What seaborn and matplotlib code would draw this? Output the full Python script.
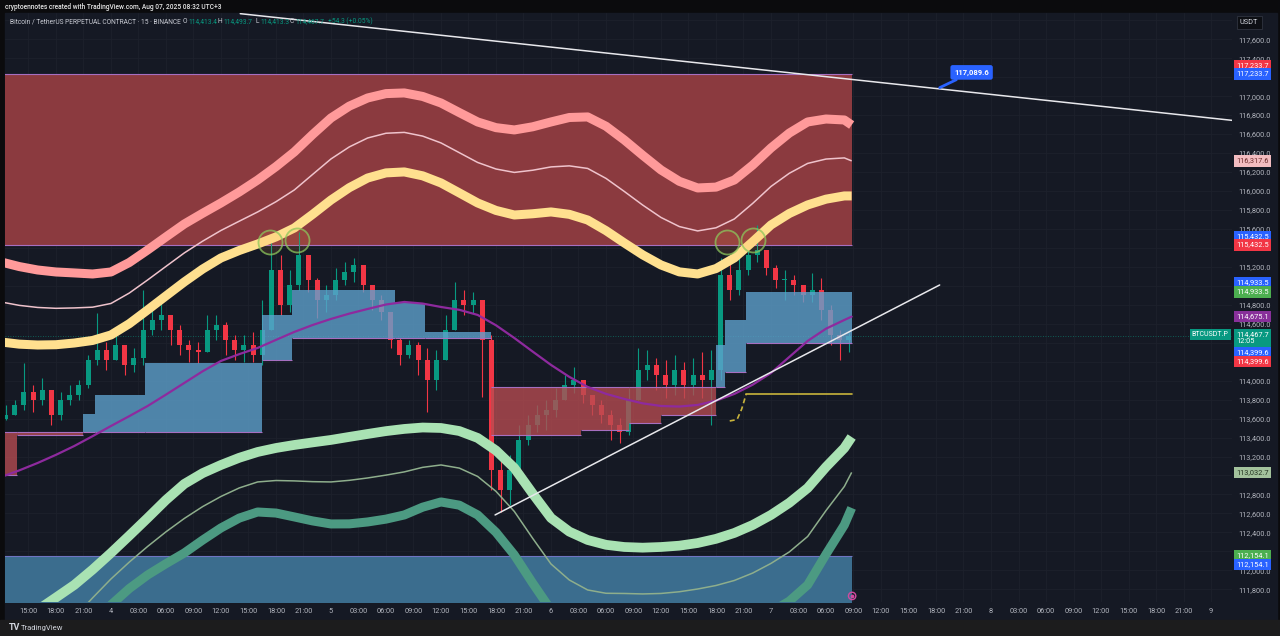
import numpy as np
import pandas as pd
import seaborn as sns
import matplotlib.pyplot as plt
from matplotlib.patches import Rectangle
from matplotlib.transforms import blended_transform_factory

# ---------------- data (time = hours from Aug 4 00:00, UTC+3) ----------------
candle_hour = list(range(-12, 81))
first_open = 113600
close = [113638, 113743, 113880, 113796, 113902, 113638, 113796, 113849, 113954, 114218, 114323, 114218,
         114376, 114165, 114239, 114534, 114640, 114693, 114534, 114376, 114323, 114302, 114534, 114587,
         114429, 114323, 114376, 114271, 114534, 115168, 114798, 115009, 115325, 115062, 114851, 114904,
         115062, 115146, 115220, 115009, 114851, 114724, 114429, 114271, 114376, 114218, 114007, 114218,
         114534, 114851, 114798, 114851, 114429, 113058, 112847, 113058, 113374, 113533, 113638, 113691,
         113796, 113954, 114007, 113849, 113743, 113638, 113533, 113459, 113796, 114113, 114165, 114060,
         113954, 114113, 113954, 114060, 114007, 114113, 115115, 114956, 115168, 115325, 115378, 115188,
         115062, 115062, 115009, 114904, 114956, 114745, 114482, 114429, 114467.7]
high = [113743, 113796, 114187, 113954, 114028, 113849, 113880, 113954, 114007, 114271, 114714, 114408,
        114566, 114376, 114345, 114956, 114798, 114819, 114661, 114587, 114429, 114408, 114693, 114693,
        114619, 114482, 114482, 114513, 114851, 115462, 115325, 115168, 115568, 115325, 115083, 115009,
        115188, 115252, 115294, 115220, 115009, 114904, 114724, 114450, 114429, 114408, 114345, 114323,
        114693, 115041, 114956, 114935, 114851, 114482, 113269, 113216, 113533, 113638, 113743, 113796,
        113923, 114060, 114144, 114007, 113849, 113796, 113691, 113606, 113923, 114345, 114323, 114239,
        114218, 114271, 114197, 114239, 114302, 114323, 115294, 115294, 115325, 115484, 115642, 115378,
        115220, 115168, 115115, 115009, 115136, 115083, 114798, 114534, 114503]
low = [113585, 113638, 113691, 113670, 113743, 113533, 113585, 113743, 113796, 113923, 114165, 114113,
       114218, 114060, 114092, 114165, 114482, 114534, 114376, 114271, 114197, 114187, 114323, 114429,
       114271, 114218, 114197, 114197, 114165, 114534, 114693, 114724, 114956, 114935, 114661, 114724,
       114851, 115009, 115041, 114935, 114745, 114640, 114345, 114165, 114239, 114060, 113670, 113902,
       114323, 114672, 114693, 114714, 113828, 112847, 112615, 112689, 112921, 113322, 113459, 113480,
       113617, 113796, 113870, 113765, 113638, 113554, 113374, 113343, 113427, 113880, 114007, 113902,
       113817, 113849, 113817, 113849, 113817, 113533, 114007, 114851, 114904, 115115, 115252, 115115,
       114978, 114851, 114904, 114830, 114830, 114640, 114376, 114218, 114302]

# envelope bands and moving average, read every 2 hours
curve_hour = list(range(-12, 81, 2)) + [80.8]
upper_outer = [115252, 115203, 115167, 115146, 115136, 115125, 115146, 115246, 115378, 115516, 115652, 115765,
               115874, 115990, 116116, 116257, 116412, 116596, 116770, 116895, 116981, 117027, 117034, 116997,
               116928, 116827, 116728, 116668, 116644, 116677, 116728, 116775, 116781, 116683, 116538, 116377,
               116222, 116102, 116032, 116041, 116116, 116273, 116454, 116611, 116728, 116759, 116749, 116696]
upper_mid = [114830, 114794, 114772, 114763, 114767, 114775, 114814, 114924, 115062, 115205, 115347, 115471,
             115584, 115682, 115779, 115887, 116011, 116175, 116338, 116465, 116559, 116609, 116618, 116579,
             116507, 116404, 116301, 116232, 116196, 116219, 116254, 116265, 116238, 116133, 115995, 115852,
             115721, 115625, 115579, 115612, 115705, 115869, 116048, 116187, 116291, 116337, 116349, 116317.6]
upper_inner = [114408, 114385, 114376, 114379, 114397, 114424, 114482, 114601, 114746, 114894, 115041, 115177,
               115294, 115373, 115441, 115516, 115610, 115754, 115905, 116035, 116137, 116191, 116201, 116160,
               116085, 115980, 115874, 115795, 115747, 115760, 115779, 115754, 115694, 115582, 115452, 115327,
               115220, 115147, 115125, 115182, 115294, 115465, 115642, 115763, 115853, 115914, 115948, 115948]
lower_inner = [111266, 111431, 111582, 111713, 111846, 112008, 112183, 112366, 112552, 112742, 112911, 113025,
               113111, 113187, 113248, 113290, 113322, 113349, 113375, 113407, 113438, 113468, 113491, 113506,
               113501, 113469, 113396, 113264, 113079, 112810, 112552, 112408, 112320, 112269, 112246, 112239,
               112246, 112260, 112288, 112332, 112394, 112478, 112584, 112712, 112868, 113090, 113290, 113406]
lower_mid = [110739, 110920, 111108, 111303, 111503, 111710, 111909, 112087, 112252, 112406, 112547, 112672,
             112779, 112869, 112932, 112947, 112943, 112935, 112932, 112949, 112974, 113004, 113038, 113086,
             113111, 113078, 112990, 112833, 112621, 112338, 112067, 111898, 111793, 111758, 111756, 111751,
             111756, 111774, 111803, 111840, 111893, 111971, 112073, 112194, 112357, 112630, 112884, 113032.7]
lower_outer = [110211, 110409, 110633, 110893, 111160, 111411, 111635, 111808, 111951, 112070, 112183, 112319,
               112447, 112551, 112615, 112604, 112563, 112521, 112489, 112490, 112510, 112540, 112584, 112666,
               112721, 112687, 112584, 112401, 112162, 111865, 111582, 111388, 111266, 111246, 111266, 111263,
               111266, 111287, 111318, 111348, 111392, 111463, 111561, 111675, 111846, 112169, 112478, 112658]
ma_line = [112984, 113054, 113132, 113218, 113311, 113415, 113522, 113626, 113733, 113853, 113976, 114099,
           114208, 114280, 114345, 114430, 114514, 114587, 114651, 114707, 114756, 114803, 114830, 114813,
           114777, 114747, 114693, 114584, 114450, 114307, 114166, 114040, 113934, 113861, 113807, 113761,
           113733, 113727, 113744, 113789, 113860, 113957, 114081, 114250, 114419, 114548, 114640, 114675.1]

# stepped range cloud: segment start, upper, lower, bullish
cloud_start = [-12, -10.25, -3, -1.75, 3.75, 16.5, 19.75, 31, 34.25, 41.5, 51.25, 56.5, 60, 66, 67, 69.25]
cloud_upper = [113459, 113459, 113650, 113849, 114187, 114693, 114956, 114819, 114514, 113934, 113934, 113934,
               113934, 114376, 114640, 114933.5]
cloud_lower = [113006, 113427, 113459, 113459, 113459, 114218, 114450, 114450, 114450, 113427, 113480, 113554,
               113638, 113934, 114092, 114399.6]
cloud_bull = [False, False, True, True, True, True, True, True, True, False, False, False, False, True, True, True]
last_bar_end = 80.85

supply_zone = [117233.7, 115432.5]
demand_zone = [112154.1, 111500]

resist_hour, resist_price = [14.1, 122.3], [117870, 116745]
support_hour, support_price = [41.9, 90.4], [112584, 115009]
step_dash_hour, step_dash_price = [67.5, 68.3, 68.8, 69.3], [113575, 113590, 113700, 113860]
step_hour, step_price = [69.3, 80.85], [113860, 113860]
touch_hour = [17.35, 20.3, 67.2, 70.05]
touch_price = [115462, 115484, 115462, 115484]
marker_price = 117089.6
marker_hour = 90.4

xtick_hour = list(range(-9, 121, 3))
xtick_labels = ['15:00', '18:00', '21:00', '4', '03:00', '06:00', '09:00', '12:00', '15:00', '18:00', '21:00',
                '5', '03:00', '06:00', '09:00', '12:00', '15:00', '18:00', '21:00',
                '6', '03:00', '06:00', '09:00', '12:00', '15:00', '18:00', '21:00',
                '7', '03:00', '06:00', '09:00', '12:00', '15:00', '18:00', '21:00',
                '8', '03:00', '06:00', '09:00', '12:00', '15:00', '18:00', '21:00', '9']
ytick_price = list(range(111800, 117801, 200))
ytick_hidden = [117800, 117200, 115400, 115000, 114400, 114200, 113000]   # covered by price tags

tag_price = [117233.7, 117233.7, 116317.6, 115432.5, 115432.5, 114933.5, 114933.5, 114675.1, 114467.7,
             114399.6, 114399.6, 113032.7, 112154.1, 112154.1]
tag_bg = ['#f23645', '#2962ff', '#f2bcc0', '#2962ff', '#f23645', '#2962ff', '#4caf50', '#88309a', '#089981',
          '#2962ff', '#f23645', '#a3c29c', '#4caf50', '#2962ff']
tag_fg = ['w', 'w', '#6b2c2c', 'w', 'w', 'w', 'w', 'w', 'w', 'w', 'w', '#23331f', 'w', 'w']
tag_shift = [8, 0, 0, 8, 0, 9, 0, 0, -2, -10, -19, 0, 0, -9]   # pixels, stacking of labels

# ---------------- style ----------------
BG = '#151924'
sns.set_theme(style='darkgrid', rc={'axes.facecolor': BG, 'figure.facecolor': '#0b0b0d',
                                    'grid.color': '#1d212c', 'grid.linewidth': 0.6})
plt.rcParams['font.family'] = ['Roboto', 'DejaVu Sans']

W, H = 1280, 636
fig = plt.figure(figsize=(12.8, 6.36), dpi=100)


def fx(px):
    return px / W


def fy(py):
    return 1 - py / H


fig.patches.append(Rectangle((fx(5), fy(620)), fx(1277) - fx(5), fy(13) - fy(620),
                             transform=fig.transFigure, color=BG, zorder=-2))
fig.patches.append(Rectangle((0, 0), 1, 16 / H, transform=fig.transFigure, color='#1c1c1d', zorder=-2))

ax = fig.add_axes([fx(5), fy(602), fx(1232) - fx(5), fy(13) - fy(602)])
ax.set_xlim(-11.56, 122.29)
ax.set_ylim(111666, 117877)
for s in ax.spines.values():
    s.set_visible(False)

# zones
ax.fill_between([-12, last_bar_end], supply_zone[1], supply_zone[0], color='#8b3a3f', lw=0, zorder=1)
ax.hlines(supply_zone, -12, last_bar_end, color='#a66fc0', lw=0.8, zorder=1.2)
ax.fill_between([-12, last_bar_end], demand_zone[1], demand_zone[0], color='#3b6d8e', lw=0, zorder=1)
ax.hlines(demand_zone[0], -12, last_bar_end, color='#6f75c2', lw=0.8, zorder=1.2)

# candles
o = np.array([first_open] + close[:-1], dtype=float)
c = np.array(close, dtype=float)
hi = np.maximum(np.array(high, dtype=float), np.maximum(o, c))
lo = np.minimum(np.array(low, dtype=float), np.minimum(o, c))
tc = np.array(candle_hour) + 0.5
col = np.where(c >= o, '#089981', '#f23645')
ax.vlines(tc, lo, hi, colors=col, lw=0.8, zorder=2)
body = np.maximum(np.abs(c - o), 8)
ax.bar(tc, body, bottom=np.minimum(o, c), width=0.55, color=col, lw=0, zorder=2)

# range cloud
ends = cloud_start[1:] + [last_bar_end]
for t0, t1, up, dn, bull in zip(cloud_start, ends, cloud_upper, cloud_lower, cloud_bull):
    ax.fill_between([t0, t1], dn, up, color='#5fa3cf' if bull else '#b84c51',
                    alpha=0.78, lw=0, zorder=3)
    ax.hlines(dn, t0, t1, color='#a66fc0', lw=0.8, zorder=3.1)
    if not bull:
        ax.hlines(up, t0, t1, color='#a66fc0', lw=0.8, zorder=3.1)

# envelope bands
bands = pd.DataFrame({'hour': curve_hour, 'uo': upper_outer, 'um': upper_mid, 'ui': upper_inner,
                      'li': lower_inner, 'lm': lower_mid, 'lo': lower_outer, 'ma': ma_line})
for key, color, lw in [('uo', '#ff9a9a', 6.5), ('ui', '#ffe08f', 6.5), ('li', '#a9e2b3', 7.0),
                       ('lo', '#4c9a82', 6.5), ('um', '#efc3cc', 1.1), ('lm', '#8eae8c', 1.1)]:
    sns.lineplot(data=bands, x='hour', y=key, color=color, lw=lw, ax=ax, sort=False,
                 estimator=None, solid_capstyle='butt', solid_joinstyle='round', zorder=4)
sns.lineplot(data=bands, x='hour', y='ma', color='#8e2a9e', lw=1.6, ax=ax, sort=False,
             estimator=None, solid_joinstyle='round', zorder=5)

# trend lines and markers
ax.plot(resist_hour, resist_price, color='#e8e8ec', lw=1.1, zorder=6)
ax.plot(support_hour, support_price, color='#e8e8ec', lw=1.1, zorder=6)
ax.plot(step_dash_hour, step_dash_price, color='#c9b43c', lw=1.2, ls=(0, (3, 2)), zorder=6)
ax.plot(step_hour, step_price, color='#c9b43c', lw=1.2, zorder=6)
ax.scatter(touch_hour, touch_price, s=300, facecolors=(1.0, 0.6, 0.25, 0.12),
           edgecolors=(0.55, 0.78, 0.36, 0.75), linewidths=1.3, zorder=7)
ax.axhline(close[-1], color='#089981', lw=0.6, ls=(0, (1, 2)), alpha=0.7, zorder=1.5)
ax.scatter([last_bar_end], [111730], s=28, facecolors='none', edgecolors='#d24aa0', linewidths=1.0, zorder=8)
ax.scatter([last_bar_end], [111730], s=3, color='#d24aa0', zorder=8)

ax.annotate(f'{marker_price:,.1f}', xy=(marker_hour, marker_price), xytext=(23, 11),
            textcoords='offset points', ha='center', va='center', fontsize=5.5, color='w',
            fontweight='bold', zorder=9,
            bbox=dict(boxstyle='round,pad=0.5,rounding_size=0.3', fc='#2962ff', ec='none'),
            arrowprops=dict(arrowstyle='-', color='#2962ff', lw=2.0, shrinkA=0, shrinkB=0))

# axes ticks
ax.set_xticks(xtick_hour)
ax.set_xticklabels(xtick_labels)
ax.set_yticks(ytick_price)
ax.set_yticklabels(['' if v in ytick_hidden else f'{v:,.1f}' for v in ytick_price])
ax.yaxis.tick_right()
ax.tick_params(axis='x', length=0, pad=4.5, labelsize=5.3, labelcolor='#b2b5be')
ax.tick_params(axis='y', length=0, pad=4.5, labelsize=5.3, labelcolor='#b2b5be')
ax.set_xlabel('')
ax.set_ylabel('')

# price scale tags
tag_tr = blended_transform_factory(ax.transAxes, ax.transData)
for p, bg, fg, sh in zip(tag_price, tag_bg, tag_fg, tag_shift):
    txt = f'{p:,.1f}'
    if p == close[-1]:
        txt += '\n12:05'
    ax.annotate(txt, xy=(1, p), xycoords=tag_tr, xytext=(3.2, sh * 0.72), textcoords='offset points',
                ha='left', va='center', fontsize=5.3, color=fg, linespacing=1.0,
                bbox=dict(boxstyle='square,pad=0.3', fc=bg, ec='none'), annotation_clip=False, zorder=20)
ax.annotate('BTCUSDT.P', xy=(1, close[-1]), xycoords=tag_tr, xytext=(-2.5, 1.4), textcoords='offset points',
            ha='right', va='center', fontsize=5.0, color='w',
            bbox=dict(boxstyle='square,pad=0.3', fc='#089981', ec='none'), annotation_clip=False, zorder=20)
fig.text(fx(1240), fy(22.5), 'USDT', fontsize=5.3, color='#d1d4dc', va='center', ha='left',
         bbox=dict(boxstyle='square,pad=0.45', fc='#0d0f14', ec='#30343f', lw=0.6))

# header, legend, footer
fig.text(fx(5), fy(7), 'cryptoennotes created with TradingView.com, Aug 07, 2025 08:32 UTC+3',
         fontsize=4.8, color='#e6e6e6', va='center', fontweight='medium')
fig.text(fx(10), fy(21.5), 'Bitcoin / TetherUS PERPETUAL CONTRACT · 15 · BINANCE', fontsize=4.8,
         color='#c9ccd4', va='center')
for px, letter, val in [(183, 'O', '114,413.4'), (218, 'H', '114,493.7'), (255, 'L', '114,413.3'),
                        (290, 'C', '114,467.7')]:
    fig.text(fx(px), fy(21.5), letter, fontsize=4.8, color='#c9ccd4', va='center')
    fig.text(fx(px + 5), fy(21.5), val, fontsize=4.8, color='#089981', va='center')
fig.text(fx(328), fy(21.5), '+54.3 (+0.05%)', fontsize=4.8, color='#089981', va='center')
fig.text(fx(9), fy(628), 'TV', fontsize=6.5, color='#d1d4dc', va='center', fontweight='bold')
fig.text(fx(21), fy(628), 'TradingView', fontsize=5.5, color='#d1d4dc', va='center')

fig.savefig('out.png', dpi=100, facecolor=fig.get_facecolor())
